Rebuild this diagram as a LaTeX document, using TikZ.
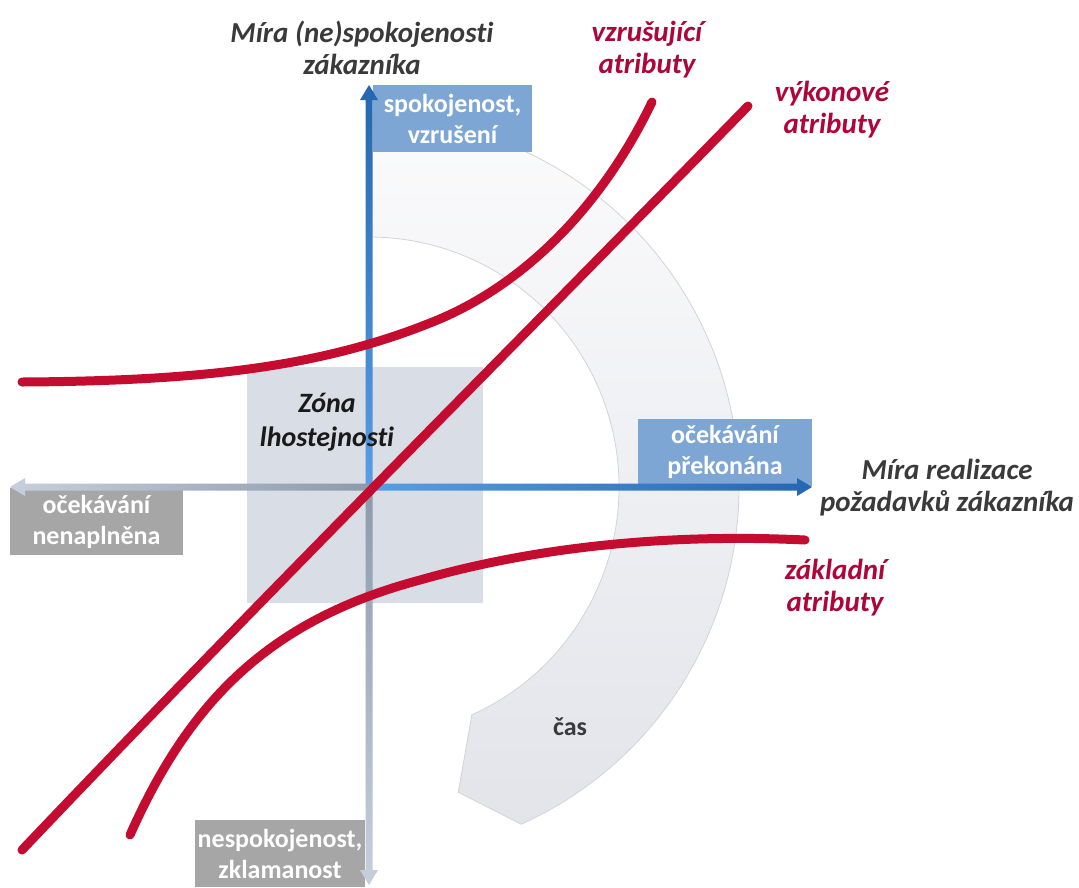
\documentclass[tikz,border=0pt]{standalone}
\usepackage{fontspec}
\setmainfont{Carlito}[Ligatures=NoCommon]
\usetikzlibrary{calc}

\definecolor{attrred}{RGB}{196,12,48}
\definecolor{labelred}{RGB}{174,6,56}
\definecolor{axisdark}{RGB}{38,102,176}
\definecolor{axislight}{RGB}{88,158,228}
\definecolor{axisgrey}{RGB}{140,154,170}
\definecolor{axispale}{RGB}{198,208,220}
\definecolor{boxblue}{RGB}{126,166,212}
\definecolor{boxgrey}{RGB}{166,166,166}
\definecolor{zonefill}{RGB}{217,221,229}
\definecolor{bandedge}{RGB}{210,212,218}
\definecolor{bandtop}{RGB}{251,251,252}
\definecolor{bandbottom}{RGB}{226,228,234}
\definecolor{textgrey}{RGB}{58,58,58}

\begin{document}
\begin{tikzpicture}[x=1pt,y=-1pt,
  attr/.style={draw=attrred,line width=9pt,line cap=round},
  attrlabel/.style={text=labelred,font=\fontsize{29}{32}\selectfont\bfseries\itshape,align=center},
  axislabel/.style={text=textgrey,font=\fontsize{29}{32}\selectfont\bfseries\itshape,align=center},
  tagbox/.style={inner sep=0pt,minimum width=#1,minimum height=67pt,align=center,
    font=\fontsize{26}{31}\selectfont\bfseries},
  bluetag/.style={tagbox=#1,fill=boxblue,text=white},
  greytag/.style={tagbox=#1,fill=boxgrey,text=white}
]
\useasboundingbox (0,0) rectangle (1079,887);
\fill[white] (0,0) rectangle (1079,887);

% origin of the two axes
\coordinate (O) at (369,487);

% curved "time" band around the origin, ending in a point
\shade[top color=bandtop,bottom color=bandbottom,draw=bandedge,line width=0.8pt]
  ($(O)+(-90:370)$) arc[start angle=-90,end angle=65.7,radius=370]
  -- ($(O)+(73.7:318)$)
  -- ($(O)+(65.7:250)$) arc[start angle=65.7,end angle=-90,radius=250]
  -- cycle;
\node[text=textgrey,font=\fontsize{26}{30}\selectfont\bfseries] (cas) at (570,727) {čas};

% zone of indifference
\node[fill=zonefill,minimum width=236pt,minimum height=236pt,inner sep=0pt] (zone) at (365,485) {};

% tags at the ends of the axes
\node[bluetag=159pt] (satisf) at (452.5,118.5) {spokojenost,\\vzrušení};
\node[bluetag=174pt] (exceed) at (725,452) {očekávání\\překonána};
\node[greytag=173pt] (unmet) at (96.5,521.5) {očekávání\\nenaplněna};
\node[greytag=170pt] (dissat) at (280,853.5) {nespokojenost,\\zklamanost};

% axis end points
\coordinate (ytop) at (369,85);
\coordinate (ybot) at (369,885);
\coordinate (xright) at (812,487);
\coordinate (xleft) at (10,487);

% upper half of the vertical axis
\shade[top color=axisdark,bottom color=axislight]
  ($(O)+(-3.5,0)$) -- ($(ytop)+(-3.5,15)$) -- ($(ytop)+(-9,15)$) -- (ytop)
  -- ($(ytop)+(9,15)$) -- ($(ytop)+(3.5,15)$) -- ($(O)+(3.5,0)$) -- cycle;
% lower half of the vertical axis
\shade[top color=axisgrey,bottom color=axispale]
  ($(O)+(-3.5,0)$) -- ($(ybot)+(-3.5,-15)$) -- ($(ybot)+(-9,-15)$) -- (ybot)
  -- ($(ybot)+(9,-15)$) -- ($(ybot)+(3.5,-15)$) -- ($(O)+(3.5,0)$) -- cycle;
% right half of the horizontal axis
\shade[left color=axislight,right color=axisdark]
  ($(O)+(0,-3.5)$) -- ($(xright)+(-15,-3.5)$) -- ($(xright)+(-15,-9)$) -- (xright)
  -- ($(xright)+(-15,9)$) -- ($(xright)+(-15,3.5)$) -- ($(O)+(0,3.5)$) -- cycle;
% left half of the horizontal axis
\shade[left color=axispale,right color=axisgrey]
  ($(O)+(0,-3.5)$) -- ($(xleft)+(15,-3.5)$) -- ($(xleft)+(15,-9)$) -- (xleft)
  -- ($(xleft)+(15,9)$) -- ($(xleft)+(15,3.5)$) -- ($(O)+(0,3.5)$) -- cycle;

% attribute curves
\coordinate (exA) at (22,382);
\coordinate (exB) at (430,323);
\coordinate (exC) at (652,102);
\draw[attr] (exA) .. controls (200,381) and (320,367) .. (exB)
  .. controls (520,288) and (600,210) .. (exC);

\coordinate (pfA) at (22,850);
\coordinate (pfB) at (748,106);
\draw[attr] (pfA) .. controls (250,610) and (500,360) .. (pfB);

\coordinate (bsA) at (130,835);
\coordinate (bsB) at (420,580);
\coordinate (bsC) at (805,540);
\draw[attr] (bsA) .. controls (190,700) and (270,620) .. (bsB)
  .. controls (560,540) and (700,535) .. (bsC);

% labels
\node[axislabel] (ylabel) at (362,48) {Míra (ne)spokojenosti\\zákazníka};
\node[axislabel] (xlabel) at (947,488) {Míra realizace\\požadavků zákazníka};
\node[attrlabel] (exlabel) at (647,50) {vzrušující\\atributy};
\node[attrlabel] (pflabel) at (832,110) {výkonové\\atributy};
\node[attrlabel] (bslabel) at (835,588) {základní\\atributy};
\node[text=black!90,font=\fontsize{28}{34}\selectfont\bfseries\itshape,align=center] (zonelabel) at (327,422) {Zóna\\lhostejnosti};
\end{tikzpicture}
\end{document}
